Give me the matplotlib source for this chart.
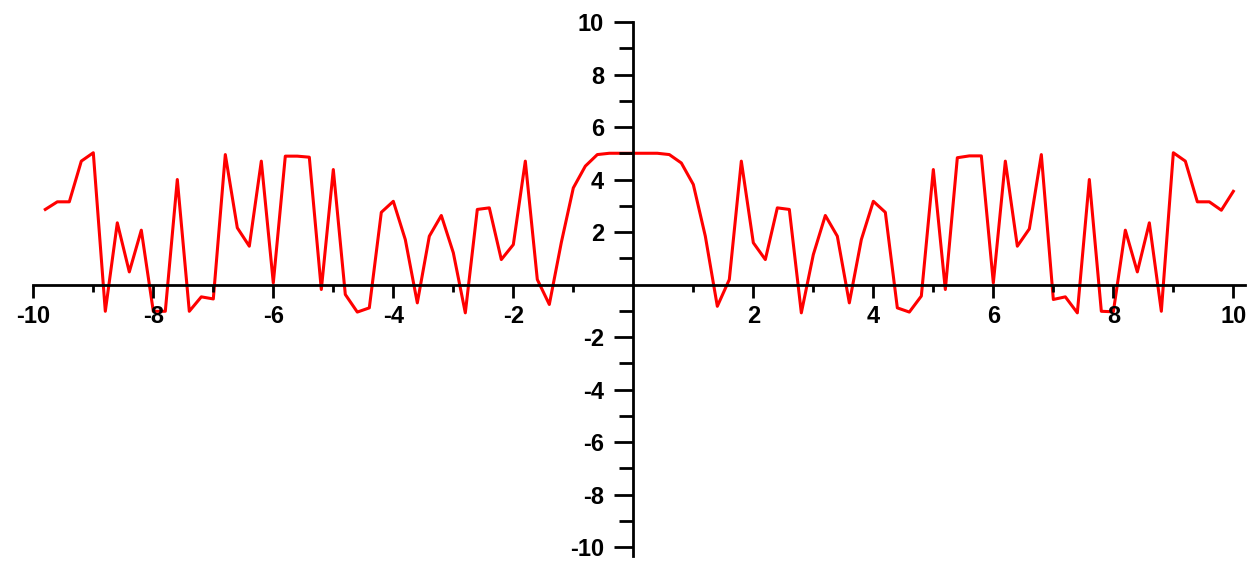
import matplotlib
matplotlib.use("Agg")
from matplotlib import pyplot as plt

# sample positions and values
x_vals = [-9.8, -9.6, -9.4, -9.2, -9.0, -8.8, -8.6, -8.4, -8.2, -8.0,
          -7.8, -7.6, -7.4, -7.2, -7.0, -6.8, -6.6, -6.4, -6.2, -6.0,
          -5.8, -5.6, -5.4, -5.2, -5.0, -4.8, -4.6, -4.4, -4.2, -4.0,
          -3.8, -3.6, -3.4, -3.2, -3.0, -2.8, -2.6, -2.4, -2.2, -2.0,
          -1.8, -1.6, -1.4, -1.2, -1.0, -0.8, -0.6, -0.4, -0.2, 0.0,
          0.2, 0.4, 0.6, 0.8, 1.0, 1.2, 1.4, 1.6, 1.8, 2.0,
          2.2, 2.4, 2.6, 2.8, 3.0, 3.2, 3.4, 3.6, 3.8, 4.0,
          4.2, 4.4, 4.6, 4.8, 5.0, 5.2, 5.4, 5.6, 5.8, 6.0,
          6.2, 6.4, 6.6, 6.8, 7.0, 7.2, 7.4, 7.6, 7.8, 8.0,
          8.2, 8.4, 8.6, 8.8, 9.0, 9.2, 9.4, 9.6, 9.8, 10.0]
y_vals = [2.86, 3.15, 3.15, 4.70, 5.02, -1.02, 2.35, 0.48, 2.07, -1.02,
          -1.02, 4.00, -1.02, -0.47, -0.55, 4.95, 2.16, 1.46, 4.70, 0.06,
          4.89, 4.89, 4.85, -0.19, 4.38, -0.38, -1.05, -0.89, 2.75, 3.17,
          1.71, -0.70, 1.84, 2.63, 1.21, -1.08, 2.86, 2.92, 0.95, 1.52,
          4.70, 0.19, -0.76, 1.60, 3.68, 4.51, 4.95, 5.00, 5.00, 5.00,
          5.00, 5.00, 4.95, 4.63, 3.81, 1.84, -0.83, 0.19, 4.70, 1.59,
          0.95, 2.92, 2.86, -1.08, 1.14, 2.63, 1.84, -0.70, 1.71, 3.17,
          2.75, -0.89, -1.05, -0.44, 4.38, -0.19, 4.83, 4.90, 4.90, 0.06,
          4.70, 1.46, 2.12, 4.95, -0.57, -0.47, -1.08, 4.00, -1.02, -1.04,
          2.07, 0.48, 2.35, -1.02, 5.02, 4.70, 3.15, 3.15, 2.83, 3.55]

major_ticks = [-10, -8, -6, -4, -2, 2, 4, 6, 8, 10]
minor_ticks = [-9, -7, -5, -3, -1, 1, 3, 5, 7, 9]

plt.rcParams['font.family'] = ['Liberation Sans', 'DejaVu Sans']

fig = plt.figure(figsize=(12.59, 5.63), dpi=100)
ax = fig.add_axes([0.02645, 0.0121, 0.9627, 0.9488])

ax.plot(x_vals, y_vals, color="#ff0000", linewidth=2.2, zorder=2)

ax.set_xlim(-10, 10.2)
ax.set_ylim(-10.35, 10)

# axes crossing at the origin
ax.spines["left"].set_position(("data", 0))
ax.spines["bottom"].set_position(("data", 0))
ax.spines["top"].set_visible(False)
ax.spines["right"].set_visible(False)
for s in ["left", "bottom"]:
    ax.spines[s].set_linewidth(2.0)
ax.set_axisbelow(False)

ax.set_xticks(major_ticks)
ax.set_xticks(minor_ticks, minor=True)
ax.set_yticks(major_ticks)
ax.set_yticks(minor_ticks, minor=True)
ax.set_xticklabels([str(t) for t in major_ticks])
ax.set_yticklabels([str(t) for t in major_ticks])

ax.tick_params(axis="x", which="major", direction="out", length=9, width=2, pad=6,
               labelsize=17)
ax.tick_params(axis="x", which="minor", direction="out", length=5, width=2)
ax.tick_params(axis="y", which="major", direction="out", length=14, width=2, pad=7,
               labelsize=17)
ax.tick_params(axis="y", which="minor", direction="out", length=10, width=2)
for lab in ax.get_xticklabels() + ax.get_yticklabels():
    lab.set_fontweight("bold")

fig.savefig("out.png", dpi=100)
